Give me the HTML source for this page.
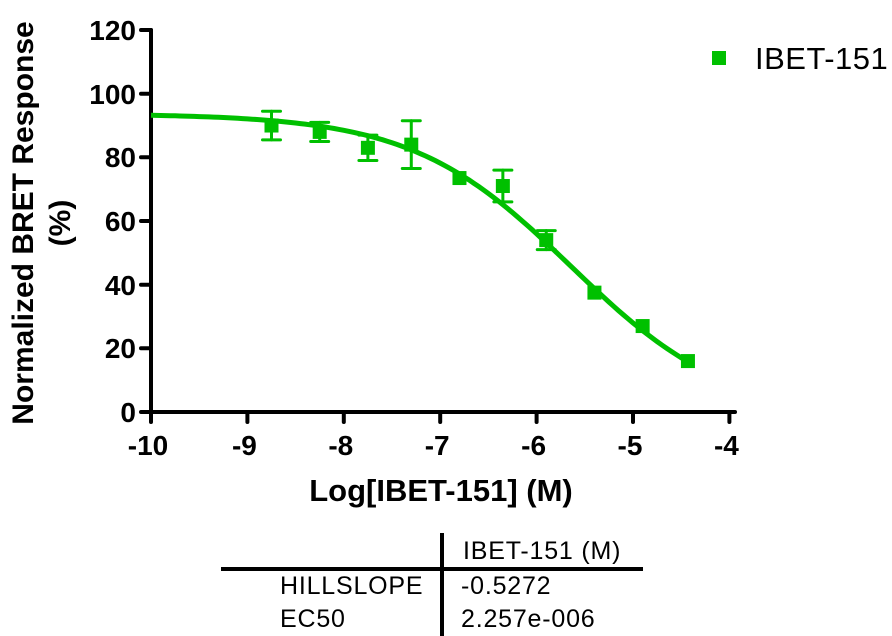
<!DOCTYPE html>
<html><head><meta charset="utf-8"><style>
html,body{margin:0;padding:0;background:#fff;}
svg{display:block;font-family:"Liberation Sans",Arial,sans-serif;}
</style></head><body>
<svg id="s" width="892" height="636" viewBox="0 0 892 636" xmlns="http://www.w3.org/2000/svg">
<g stroke="#000" stroke-width="4" stroke-linecap="round" fill="none">
<line x1="151" y1="30" x2="151" y2="414"/>
<line x1="149" y1="412" x2="735" y2="412"/>
<line x1="141" y1="30" x2="151" y2="30"/>
<line x1="141" y1="93.7" x2="151" y2="93.7"/>
<line x1="141" y1="157.3" x2="151" y2="157.3"/>
<line x1="141" y1="221" x2="151" y2="221"/>
<line x1="141" y1="284.7" x2="151" y2="284.7"/>
<line x1="141" y1="348.3" x2="151" y2="348.3"/>
<line x1="141" y1="412" x2="151" y2="412"/>
<g id="xt"></g>
</g>
<g font-size="28" font-weight="bold" text-anchor="end" fill="#000">
<text x="136" y="40">120</text>
<text x="136" y="104">100</text>
<text x="136" y="167">80</text>
<text x="136" y="231">60</text>
<text x="136" y="295">40</text>
<text x="136" y="358">20</text>
<text x="136" y="422">0</text>
</g>
<g font-size="28" font-weight="bold" text-anchor="middle" id="xl"></g>
<text x="441" y="501" font-size="31" font-weight="bold" text-anchor="middle">Log[IBET-151] (M)</text>
<text transform="translate(33,223) rotate(-90)" font-size="30" font-weight="bold" text-anchor="middle">Normalized BRET Response</text>
<text transform="translate(70,223) rotate(-90)" font-size="30" font-weight="bold" text-anchor="middle">(%)</text>
<path id="curve" fill="none" stroke="#00c000" stroke-width="5"/>
<g id="pts" fill="#00c000" stroke="#00c000" stroke-width="3"></g>
<rect x="712" y="51" width="14" height="14" fill="#00c000"/>
<text x="755" y="69" font-size="31" letter-spacing="0.5">IBET-151</text>
<g stroke="#000" stroke-width="4">
<line x1="442" y1="533" x2="442" y2="636"/>
<line x1="221" y1="569" x2="643" y2="569"/>
</g>
<g font-size="25" letter-spacing="0.8">
<text x="463" y="559">IBET-151 (M)</text>
<text x="280" y="594">HILLSLOPE</text>
<text x="280" y="627">EC50</text>
<text x="461" y="594">-0.5272</text>
<text x="461" y="627">2.257e-006</text>
</g>
</svg>
<script>
var NS="http://www.w3.org/2000/svg";
function X(x){return 151+(x+10)*96.4;}
function Y(y){return 412-y*3.183;}
var xt=document.getElementById('xt'),xl=document.getElementById('xl');
for(var i=-10;i<=-4;i++){
 var l=document.createElementNS(NS,'line');l.setAttribute('x1',X(i));l.setAttribute('x2',X(i));l.setAttribute('y1',412);l.setAttribute('y2',422);xt.appendChild(l);
 var t=document.createElementNS(NS,'text');t.setAttribute('x',X(i)-3);t.setAttribute('y',455);t.textContent=i;xl.appendChild(t);
}
var d="";
for(var x=-10;x<=-4.43;x+=0.05){
 var y=-2+95.7/(1+Math.pow(10,(x+5.646)*0.5272));
 d+=(d?"L":"M")+X(x).toFixed(1)+","+Y(y).toFixed(1);
}
document.getElementById('curve').setAttribute('d',d);
var P=[[-8.75,90,4.5],[-8.25,88,3],[-7.75,83,4],[-7.3,84,7.5],[-6.8,73.5,0],[-6.35,71,5],[-5.9,54,3],[-5.4,37.5,0],[-4.9,27,0],[-4.43,16,0]];
var g=document.getElementById('pts');
P.forEach(function(p){
 var cx=X(p[0]),cy=Y(p[1]);
 if(p[2]>0){
  var e=p[2]*3.183;
  [[cx,cy-e,cx,cy+e],[cx-9,cy-e,cx+9,cy-e],[cx-9,cy+e,cx+9,cy+e]].forEach(function(a){
   var l=document.createElementNS(NS,'line');l.setAttribute('x1',a[0]);l.setAttribute('y1',a[1]);l.setAttribute('x2',a[2]);l.setAttribute('y2',a[3]);l.setAttribute('stroke-linecap','round');g.appendChild(l);
  });
 }
 var r=document.createElementNS(NS,'rect');r.setAttribute('x',cx-7);r.setAttribute('y',cy-7);r.setAttribute('width',14);r.setAttribute('height',14);r.setAttribute('stroke','none');g.appendChild(r);
});
</script>
</body></html>
